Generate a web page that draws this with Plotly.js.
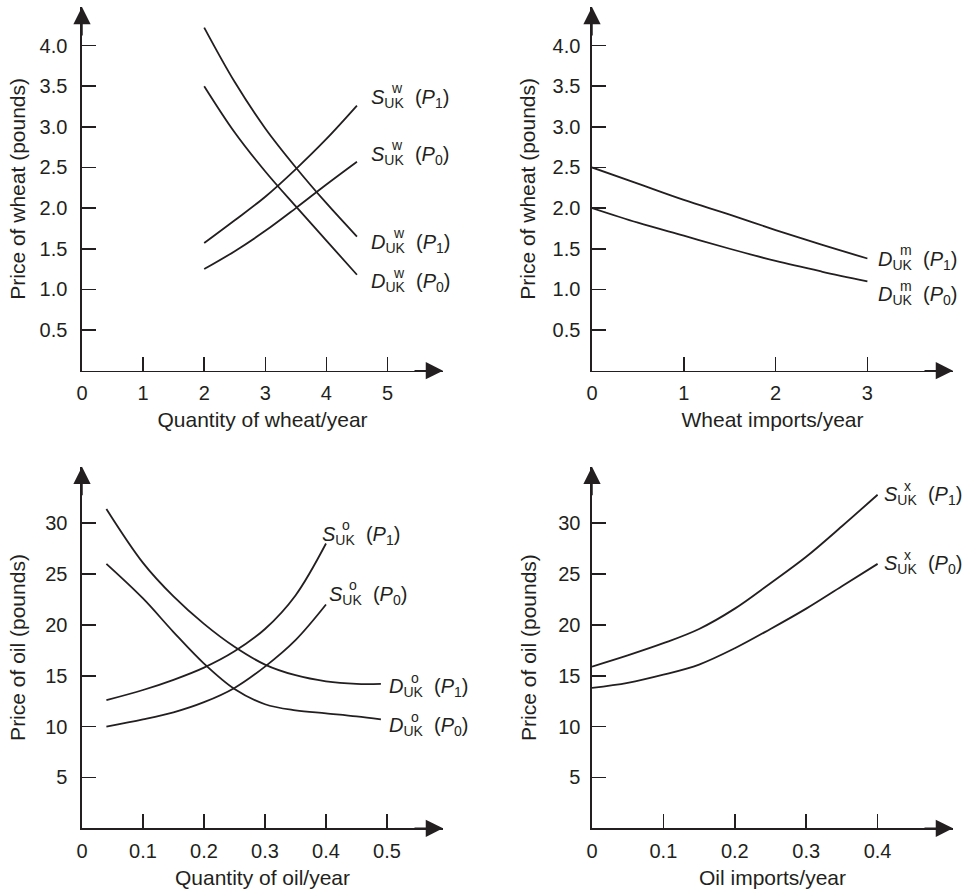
<!DOCTYPE html>
<html><head><meta charset="utf-8">
<script src="https://cdn.plot.ly/plotly-3.0.1.min.js"></script>
<style>html,body{margin:0;padding:0;background:#fff}#chart{width:969px;height:892px}</style>
</head><body><div id="chart"></div>
<script>
// ---------- Data ----------
// Panel 1: UK wheat market
const wheatQty = [2, 2.5, 3, 3.5, 4, 4.5];
const wheatDemandP1 = [4.22, 3.55, 2.98, 2.5, 2.06, 1.65];
const wheatDemandP0 = [3.5, 2.93, 2.45, 2.02, 1.6, 1.18];
const wheatSupplyP1 = [1.57, 1.85, 2.14, 2.48, 2.85, 3.26];
const wheatSupplyP0 = [1.25, 1.47, 1.72, 2.0, 2.29, 2.57];
// Panel 2: wheat imports
const wheatImports = [0, 0.5, 1, 1.5, 2, 2.5, 3];
const importDemandP1 = [2.5, 2.3, 2.1, 1.92, 1.73, 1.55, 1.38];
const importDemandP0 = [2.0, 1.82, 1.66, 1.5, 1.35, 1.22, 1.1];
// Panel 3: UK oil market
const oilQtyDemand = [0.04, 0.1, 0.15, 0.2, 0.25, 0.3, 0.35, 0.4, 0.45, 0.49];
const oilDemandP1 = [31.4, 26.1, 22.8, 20.1, 17.85, 16.1, 15.05, 14.45, 14.2, 14.2];
const oilDemandP0 = [26.0, 22.6, 19.3, 16.2, 13.7, 12.2, 11.6, 11.3, 11.0, 10.7];
const oilQtySupply = [0.04, 0.1, 0.15, 0.2, 0.25, 0.3, 0.35, 0.4];
const oilSupplyP1 = [12.6, 13.6, 14.6, 15.8, 17.4, 19.6, 22.9, 28.0];
const oilSupplyP0 = [10.0, 10.7, 11.4, 12.4, 13.8, 15.9, 18.5, 22.0];
// Panel 4: oil exports
const oilTrade = [0, 0.05, 0.1, 0.15, 0.2, 0.25, 0.3, 0.35, 0.4];
const exportSupplyP1 = [15.9, 17.0, 18.2, 19.6, 21.6, 24.1, 26.7, 29.7, 32.8];
const exportSupplyP0 = [13.8, 14.3, 15.1, 16.1, 17.7, 19.6, 21.6, 23.8, 26.0];

// Tick values / labels
const wheatQtyTicks = [0, 1, 2, 3, 4, 5];
const wheatQtyLabels = ['0', '1', '2', '3', '4', '5'];
const wheatImportTicks = [0, 1, 2, 3];
const wheatImportLabels = ['0', '1', '2', '3'];
const wheatPriceTicks = [0.5, 1, 1.5, 2, 2.5, 3, 3.5, 4];
const wheatPriceLabels = ['0.5', '1.0', '1.5', '2.0', '2.5', '3.0', '3.5', '4.0'];
const oilQtyTicks = [0, 0.1, 0.2, 0.3, 0.4, 0.5];
const oilQtyLabels = ['0', '0.1', '0.2', '0.3', '0.4', '0.5'];
const oilTradeTicks = [0, 0.1, 0.2, 0.3, 0.4];
const oilTradeLabels = ['0', '0.1', '0.2', '0.3', '0.4'];
const oilPriceTicks = [5, 10, 15, 20, 25, 30];
const oilPriceLabels = ['5', '10', '15', '20', '25', '30'];

// Axis titles
const titles = {
  x1: 'Quantity of wheat/year', y1: 'Price of wheat (pounds)',
  x2: 'Wheat imports/year', y2: 'Price of wheat (pounds)',
  x3: 'Quantity of oil/year', y3: 'Price of oil (pounds)',
  x4: 'Oil imports/year', y4: 'Price of oil (pounds)'
};

// ---------- Styling ----------
const INK = '#231f20';
const FONT = 'Liberation Sans, Arial, Helvetica, sans-serif';
const W = 969, H = 892;
const px = v => v / W, py = v => 1 - v / H;

function line(x, y, xa, ya) {
  return {x: x, y: y, xaxis: xa, yaxis: ya, type: 'scatter', mode: 'lines',
    line: {color: INK, width: 1.8, shape: 'spline', smoothing: 1},
    hoverinfo: 'skip', showlegend: false};
}

const data = [
  line(wheatQty, wheatDemandP1, 'x', 'y'),
  line(wheatQty, wheatDemandP0, 'x', 'y'),
  line(wheatQty, wheatSupplyP1, 'x', 'y'),
  line(wheatQty, wheatSupplyP0, 'x', 'y'),
  line(wheatImports, importDemandP1, 'x2', 'y2'),
  line(wheatImports, importDemandP0, 'x2', 'y2'),
  line(oilQtyDemand, oilDemandP1, 'x3', 'y3'),
  line(oilQtyDemand, oilDemandP0, 'x3', 'y3'),
  line(oilQtySupply, oilSupplyP1, 'x3', 'y3'),
  line(oilQtySupply, oilSupplyP0, 'x3', 'y3'),
  line(oilTrade, exportSupplyP1, 'x4', 'y4'),
  line(oilTrade, exportSupplyP0, 'x4', 'y4')
];

function xAxis(dom, range, tv, tt, title, anchor) {
  return {domain: dom, range: range, anchor: anchor, fixedrange: true,
    showline: true, linecolor: INK, linewidth: 1.6, showgrid: false, zeroline: false,
    ticks: 'inside', ticklen: 14, tickwidth: 1.5, tickcolor: INK,
    tickvals: tv, ticktext: tt, ticklabelstandoff: 4,
    tickfont: {family: FONT, size: 20, color: INK},
    title: {text: title, standoff: 9, font: {family: FONT, size: 21, color: INK}}};
}
function yAxis(dom, range, tv, tt, title, anchor, so, tso) {
  return {domain: dom, range: range, anchor: anchor, fixedrange: true,
    showline: true, linecolor: INK, linewidth: 1.6, showgrid: false, zeroline: false,
    ticks: 'inside', ticklen: 14, tickwidth: 1.5, tickcolor: INK,
    tickvals: tv, ticktext: tt, ticklabelstandoff: so,
    tickfont: {family: FONT, size: 20, color: INK},
    title: {text: title, standoff: tso, font: {family: FONT, size: 21, color: INK}}};
}

const leftX = [px(82), px(443)], rightX = [px(592), px(953)];
const topY = [py(370.7), py(7)], botY = [py(828.3), py(466.7)];
const r1x = [0, (443 - 82) / 61.1], r2x = [0, (953 - 592) / 91.8];
const rwy = [0, (370.7 - 7) / 81.3];
const r3x = [0, (443 - 82) / 610], r4x = [0, (953 - 592) / 714];
const roy = [0, (828.3 - 466.7) / 10.17];

const layout = {
  width: W, height: H, margin: {l: 0, r: 0, t: 0, b: 0},
  paper_bgcolor: '#fff', plot_bgcolor: 'rgba(0,0,0,0)', showlegend: false,
  font: {family: FONT, color: INK},
  xaxis: xAxis(leftX, r1x, wheatQtyTicks, wheatQtyLabels, titles.x1, 'y'),
  yaxis: yAxis(topY, rwy, wheatPriceTicks, wheatPriceLabels, titles.y1, 'x', 9, 8),
  xaxis2: xAxis(rightX, r2x, wheatImportTicks, wheatImportLabels, titles.x2, 'y2'),
  yaxis2: yAxis(topY, rwy, wheatPriceTicks, wheatPriceLabels, titles.y2, 'x2', 6, 11),
  xaxis3: xAxis(leftX, r3x, oilQtyTicks, oilQtyLabels, titles.x3, 'y3'),
  yaxis3: yAxis(botY, roy, oilPriceTicks, oilPriceLabels, titles.y3, 'x3', 9, 14),
  xaxis4: xAxis(rightX, r4x, oilTradeTicks, oilTradeLabels, titles.x4, 'y4'),
  yaxis4: yAxis(botY, roy, oilPriceTicks, oilPriceLabels, titles.y4, 'x4', 6, 16),
  annotations: []
};

// axis arrowheads
const panels = [['x', 'y', r1x, rwy], ['x2', 'y2', r2x, rwy], ['x3', 'y3', r3x, roy], ['x4', 'y4', r4x, roy]];
panels.forEach(p => {
  layout.annotations.push({xref: p[0], yref: p[1], x: p[2][1], y: 0, ax: -30, ay: 0, text: '',
    showarrow: true, arrowhead: 2, arrowsize: 2.3, arrowwidth: 1.5, arrowcolor: INK});
  layout.annotations.push({xref: p[0], yref: p[1], x: 0, y: p[3][1], ax: 0, ay: 30, text: '',
    showarrow: true, arrowhead: 2, arrowsize: 2.3, arrowwidth: 1.5, arrowcolor: INK});
});

// curve labels: letter, superscript, period; anchor position in axis units
const curveLabels = [
  {xr: 'x', yr: 'y', x: 4.7, y: 3.35, L: 'S', sup: 'w', p: '1'},
  {xr: 'x', yr: 'y', x: 4.7, y: 2.65, L: 'S', sup: 'w', p: '0'},
  {xr: 'x', yr: 'y', x: 4.7, y: 1.57, L: 'D', sup: 'w', p: '1'},
  {xr: 'x', yr: 'y', x: 4.7, y: 1.08, L: 'D', sup: 'w', p: '0'},
  {xr: 'x2', yr: 'y2', x: 3.09, y: 1.36, L: 'D', sup: 'm', p: '1'},
  {xr: 'x2', yr: 'y2', x: 3.09, y: 0.92, L: 'D', sup: 'm', p: '0'},
  {xr: 'x3', yr: 'y3', x: 0.39, y: 28.8, L: 'S', sup: 'o', p: '1'},
  {xr: 'x3', yr: 'y3', x: 0.401, y: 22.9, L: 'S', sup: 'o', p: '0'},
  {xr: 'x3', yr: 'y3', x: 0.5, y: 13.8, L: 'D', sup: 'o', p: '1'},
  {xr: 'x3', yr: 'y3', x: 0.5, y: 10.0, L: 'D', sup: 'o', p: '0'},
  {xr: 'x4', yr: 'y4', x: 0.406, y: 32.7, L: 'S', sup: 'x', p: '1'},
  {xr: 'x4', yr: 'y4', x: 0.406, y: 25.9, L: 'S', sup: 'x', p: '0'}
];
curveLabels.forEach(c => {
  const lw = c.L === 'D' ? 15 : 13;
  layout.annotations.push({xref: c.xr, yref: c.yr, x: c.x, y: c.y, xanchor: 'left', yanchor: 'middle',
    showarrow: false, font: {family: FONT, size: 20, color: INK},
    text: '<i>' + c.L + '</i><sub>UK</sub>&nbsp;&nbsp;(<i>P</i><sub>' + c.p + '</sub>)'});
  layout.annotations.push({xref: c.xr, yref: c.yr, x: c.x, y: c.y, xanchor: 'left', yanchor: 'middle',
    xshift: lw + 7, yshift: 10, showarrow: false, font: {family: FONT, size: 14, color: INK}, text: c.sup});
});

Plotly.newPlot('chart', data, layout, {staticPlot: true, displayModeBar: false});
</script>
</body></html>
